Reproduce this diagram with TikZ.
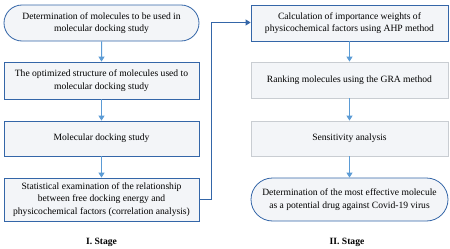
\documentclass[tikz,border=0pt]{standalone}
\usepackage{fontspec}
\setmainfont{Liberation Serif}
\usetikzlibrary{arrows.meta,shapes.misc}
\definecolor{bdblue}{HTML}{3466A8}
\definecolor{boxfill}{HTML}{F3F5F8}
\definecolor{arrblue}{HTML}{5B9BD5}
\definecolor{bdgray}{HTML}{C9CDD2}
\tikzset{
  x=1pt,y=-1pt,
  base/.style={fill=boxfill,line width=0.8pt,align=center,inner sep=1pt,
    font=\fontsize{9.6}{12.5}\selectfont,minimum width=195pt},
  bluebox/.style={base,draw=bdblue},
  graybox/.style={base,draw=bdgray},
  term/.style={base,draw=bdblue,rounded rectangle,minimum width=197pt},
  flow/.style={draw=arrblue,line width=1pt,-{Triangle[length=5pt,width=6pt]}},
  link/.style={draw=bdblue,line width=0.8pt,-{Triangle[length=5pt,width=6pt]}},
  stage/.style={font=\bfseries\fontsize{9.6}{12}\selectfont}
}
\begin{document}
\begin{tikzpicture}
\useasboundingbox (0,0) rectangle (450,249);
\node[term,minimum height=36pt] (a1) at (101.5,23) {Determination of molecules to be used in\\molecular docking study};
\node[bluebox,minimum height=37pt] (a2) at (101.5,80.5) {The optimized structure of molecules used to\\molecular docking study};
\node[bluebox,minimum height=35pt] (a3) at (101.5,138.5) {Molecular docking study};
\node[bluebox,minimum height=43pt] (a4) at (101.5,199.5) {Statistical examination of the relationship\\between free docking energy and\\physicochemical factors (correlation analysis)};
\node[stage] (s1) at (101.5,242) {I. Stage};

\node[bluebox,minimum height=36pt,minimum width=197pt] (b1) at (349.5,23) {Calculation of importance weights of\\physicochemical factors using AHP method};
\node[graybox,minimum height=36pt,minimum width=197pt] (b2) at (349.5,80) {Ranking molecules using the GRA method};
\node[graybox,minimum height=35pt,minimum width=197pt] (b3) at (349.5,138.5) {Sensitivity analysis};
\node[term,minimum height=43pt,minimum width=199pt] (b4) at (349.5,199.5) {Determination of the most effective molecule\\as a potential drug against Covid-19 virus};
\node[stage] (s2) at (347,242) {II. Stage};

\draw[flow] (a1) -- (a2);
\draw[flow] (a2) -- (a3);
\draw[flow] (a3) -- (a4);
\draw[flow] (b1) -- (b2);
\draw[flow] (b2) -- (b3);
\draw[flow] (b3) -- (b4);
\coordinate (c1) at (211,199);
\coordinate (c2) at (211,22.5);
\draw[link] (a4.east |- c1) -- (c1) -- (c2) -- (b1.west |- c2);
\end{tikzpicture}
\end{document}
